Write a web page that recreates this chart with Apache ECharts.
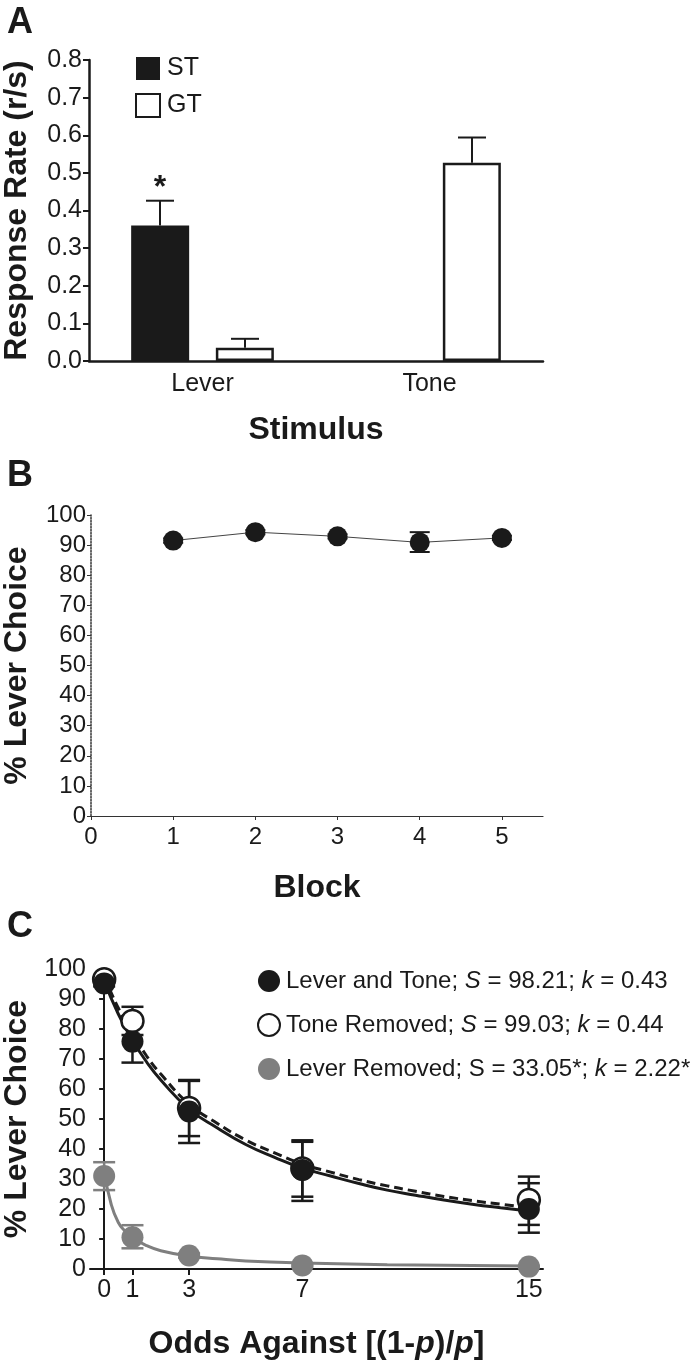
<!DOCTYPE html>
<html>
<head>
<meta charset="utf-8">
<script src="https://cdn.jsdelivr.net/npm/echarts@6/dist/echarts.min.js"></script>
<style>
html,body{margin:0;padding:0;background:#fff;}
#chart{width:699px;height:1360px;}
</style>
</head>
<body>
<div id="chart"></div>
<script>
// ---------- Panel A data ----------
const stimCats = ['Lever', 'Tone'];
const stValues = [0.36, 0];
const stErrTop = [0.426, null];
const stSig = ['*', ''];
const gtValues = [0.035, 0.527];
const gtErrTop = [0.059, 0.594];

// ---------- Panel B data ----------
const blocks = [1, 2, 3, 4, 5];
const blockChoice = [91.5, 94.3, 92.9, 90.9, 92.4];
const blockLow = [90.8, 93.6, 92.2, 87.7, 91.7];
const blockHigh = [92.2, 95.0, 93.6, 94.3, 93.1];
const blockTicks = [0, 1, 2, 3, 4, 5];

// ---------- Panel C data ----------
const odds = [0, 1, 3, 7, 15];
const ltMean = [95.2, 75.8, 52.5, 33.0, 20.0];
const ltLow = [94.2, 68.8, 42.0, 22.7, 12.1];
const ltHigh = [96.2, 82.8, 62.7, 42.4, 28.6];
const trMean = [96.6, 82.7, 53.7, 33.5, 23.0];
const trLow = [95.6, 78.0, 44.3, 24.1, 14.7];
const trHigh = [97.6, 87.4, 63.0, 42.9, 30.8];
const lrMean = [31.0, 10.6, 4.5, 1.2, 0.8];
const lrLow = [26.3, 6.9, 3.8, 0.8, 0.5];
const lrHigh = [35.6, 14.6, 5.2, 1.6, 1.1];
// fitted curves
const fitX = [0, 0.5, 1, 1.5, 2, 3, 4, 5, 6, 7, 8, 9, 10, 11, 12, 13, 14, 15];
const ltFit = [96.0, 85.0, 76.3, 69.0, 63.0, 53.3, 47.0, 41.5, 37.3, 33.6, 31.0, 28.5, 26.3, 24.6, 23.0, 21.6, 20.4, 19.3];
const trFit = [97.5, 87.0, 78.5, 71.0, 65.0, 55.0, 48.5, 43.0, 38.8, 35.0, 32.3, 29.8, 27.7, 25.9, 24.2, 22.8, 21.6, 20.5];
const lrFitX = [0, 0.25, 0.5, 0.75, 1, 1.5, 2, 3, 4, 5, 7, 10, 15];
const lrFit = [32.5, 21.5, 15.5, 12.5, 10.4, 7.8, 6.1, 4.3, 3.4, 2.7, 2.0, 1.4, 1.0];
const oddsTicks = [0, 1, 3, 7, 15];
const legendText = {
  'Lever and Tone': '{n|Lever and Tone; }{i|S}{n| = 98.21; }{i|k}{n| = 0.43}',
  'Tone Removed': '{n|Tone Removed; }{i|S}{n| = 99.03; }{i|k}{n| = 0.44}',
  'Lever Removed': '{n|Lever Removed; S = 33.05*; }{i|k}{n| = 2.22*}'
};

const FONT = "'Liberation Sans', Arial, Helvetica, sans-serif";
const INK = '#1a1a1a';
const GRAY = '#7f7f7f';

const chart = echarts.init(document.getElementById('chart'), null, {renderer: 'canvas'});

function zip(xs, ys) { return xs.map((x, i) => [x, ys[i]]); }

function errRenderer(opts) {
  return function (params, api) {
    const x = api.value(0), lo = api.value(1), hi = api.value(2);
    if (hi == null || isNaN(hi)) return null;
    const pLo = api.coord([x, lo]);
    const pHi = api.coord([x, hi]);
    const cx = pLo[0] + (opts.offset || 0);
    const st = {stroke: opts.color, lineWidth: opts.width};
    const children = [
      {type: 'line', shape: {x1: cx, y1: pLo[1], x2: cx, y2: pHi[1]}, style: st},
      {type: 'line', shape: {x1: cx - opts.cap, y1: pHi[1], x2: cx + opts.cap, y2: pHi[1]}, style: st}
    ];
    if (!opts.topOnly) {
      children.push({type: 'line', shape: {x1: cx - opts.cap, y1: pLo[1], x2: cx + opts.cap, y2: pLo[1]}, style: st});
    }
    if (opts.sig) {
      const s = opts.sig[params.dataIndex];
      if (s) {
        children.push({type: 'text', style: {text: s, x: cx, y: pHi[1] - 13, align: 'center', verticalAlign: 'middle',
          fontSize: 32, fontWeight: 'bold', fontFamily: FONT, fill: INK}});
      }
    }
    return {type: 'group', children: children};
  };
}

const axisNameStyle = {fontSize: 32, fontWeight: 'bold', fontFamily: FONT, color: INK};
const letterStyle = {fontSize: 36, fontWeight: 'bold', fontFamily: FONT, color: INK};

const option = {
  animation: false,
  backgroundColor: '#fff',
  textStyle: {fontFamily: FONT, color: INK},
  title: [
    {text: 'A', left: 2, top: 0, textStyle: letterStyle},
    {text: 'B', left: 2, top: 453, textStyle: letterStyle},
    {text: 'C', left: 2, top: 904, textStyle: letterStyle}
  ],
  legend: [
    {
      data: ['ST', 'GT'], orient: 'vertical', left: 130, top: 51,
      icon: 'rect', itemWidth: 24, itemHeight: 23, itemGap: 12,
      textStyle: {fontSize: 25, lineHeight: 24, fontFamily: FONT, color: INK, padding: [0, 0, 0, 2]},
      selectedMode: false
    },
    {
      data: ['Lever and Tone', 'Tone Removed', 'Lever Removed'], orient: 'vertical', left: 252, top: 964,
      icon: 'circle', itemWidth: 22, itemHeight: 22, itemGap: 20,
      formatter: name => legendText[name],
      textStyle: {fontSize: 24, lineHeight: 22, fontFamily: FONT, color: INK, padding: [0, 0, 0, 1],
        rich: {n: {fontSize: 24, lineHeight: 22, fontFamily: FONT, color: INK},
               i: {fontSize: 24, lineHeight: 22, fontStyle: 'italic', fontFamily: FONT, color: INK}}},
      selectedMode: false
    }
  ],
  grid: [
    {left: 89, top: 60, width: 454, height: 301, containLabel: false, outerBoundsMode: 'none'},
    {left: 91, top: 515, width: 452, height: 301, containLabel: false, outerBoundsMode: 'none'},
    {left: 90, top: 969, width: 453, height: 300, containLabel: false, outerBoundsMode: 'none'}
  ],
  xAxis: [
    {
      gridIndex: 0, type: 'category', data: stimCats,
      axisLine: {lineStyle: {color: INK, width: 2.5}},
      axisTick: {alignWithLabel: true, length: 6, lineStyle: {color: INK, width: 2.5}},
      axisLabel: {fontSize: 25, fontFamily: FONT, color: INK, margin: 11},
      name: 'Stimulus', nameLocation: 'middle', nameGap: 53, nameTextStyle: axisNameStyle
    },
    {
      gridIndex: 1, type: 'value', min: 0, max: 5.5,
      axisLine: {lineStyle: {color: '#333', width: 1.2}},
      axisTick: {customValues: blockTicks, length: 4, lineStyle: {color: '#333', width: 1}},
      axisLabel: {customValues: blockTicks, fontSize: 24, fontFamily: FONT, color: INK, margin: 9},
      splitLine: {show: false},
      name: 'Block', nameLocation: 'middle', nameGap: 56, nameTextStyle: axisNameStyle
    },
    {
      gridIndex: 2, type: 'value', min: -0.5, max: 15.5,
      axisLine: {lineStyle: {color: INK, width: 2}},
      axisTick: {customValues: oddsTicks, length: 6, lineStyle: {color: INK, width: 2}},
      axisLabel: {customValues: oddsTicks, fontSize: 25, fontFamily: FONT, color: INK, margin: 9},
      splitLine: {show: false},
      name: '{b|Odds Against [(1-}{bi|p}{b|)/}{bi|p}{b|]}', nameLocation: 'middle', nameGap: 59,
      nameTextStyle: {rich: {b: axisNameStyle, bi: Object.assign({}, axisNameStyle, {fontStyle: 'italic'})}}
    }
  ],
  yAxis: [
    {
      gridIndex: 0, type: 'value', min: 0, max: 0.8, interval: 0.1,
      axisLine: {show: true, lineStyle: {color: INK, width: 2.5}},
      axisTick: {show: true, length: 6, lineStyle: {color: INK, width: 2}},
      axisLabel: {fontSize: 25, fontFamily: FONT, color: INK, margin: 7, formatter: v => v.toFixed(1)},
      splitLine: {show: false},
      name: 'Response Rate (r/s)', nameLocation: 'middle', nameGap: 56, nameTextStyle: axisNameStyle
    },
    {
      gridIndex: 1, type: 'value', min: 0, max: 100, interval: 10,
      axisLine: {show: true, lineStyle: {color: '#333', width: 1.5, type: 'dotted'}},
      axisTick: {show: true, length: 4, lineStyle: {color: '#333', width: 1}},
      axisLabel: {fontSize: 24, fontFamily: FONT, color: INK, margin: 5},
      splitLine: {show: false},
      name: '% Lever Choice', nameLocation: 'middle', nameGap: 58, nameTextStyle: axisNameStyle
    },
    {
      gridIndex: 2, type: 'value', min: 0, max: 100, interval: 10,
      axisLine: {show: true, lineStyle: {color: INK, width: 2}},
      axisTick: {show: true, length: 5, lineStyle: {color: INK, width: 2}},
      axisLabel: {fontSize: 25, fontFamily: FONT, color: INK, margin: 4},
      splitLine: {show: false},
      name: '% Lever Choice', nameLocation: 'middle', nameGap: 56, nameTextStyle: axisNameStyle
    }
  ],
  series: [
    // ----- Panel A -----
    {
      name: 'ST', type: 'bar', xAxisIndex: 0, yAxisIndex: 0, data: stValues,
      barWidth: 58, barGap: '46%', itemStyle: {color: INK}, z: 2
    },
    {
      name: 'GT', type: 'bar', xAxisIndex: 0, yAxisIndex: 0, data: gtValues,
      barWidth: 58, barGap: '46%', itemStyle: {color: '#fff', borderColor: INK, borderWidth: 2.5}, z: 2
    },
    {
      type: 'custom', xAxisIndex: 0, yAxisIndex: 0, z: 1,
      data: stimCats.map((c, i) => [i, stValues[i], stErrTop[i]]),
      encode: {x: 0, y: [1, 2]},
      renderItem: errRenderer({offset: -42.5, cap: 14, color: INK, width: 2, topOnly: true, sig: stSig})
    },
    {
      type: 'custom', xAxisIndex: 0, yAxisIndex: 0, z: 1,
      data: stimCats.map((c, i) => [i, gtValues[i], gtErrTop[i]]),
      encode: {x: 0, y: [1, 2]},
      renderItem: errRenderer({offset: 42.5, cap: 14, color: INK, width: 2, topOnly: true})
    },
    // ----- Panel B -----
    {
      type: 'custom', xAxisIndex: 1, yAxisIndex: 1, z: 1,
      data: blocks.map((b, i) => [b, blockLow[i], blockHigh[i]]),
      encode: {x: 0, y: [1, 2]},
      renderItem: errRenderer({cap: 10, color: INK, width: 2})
    },
    {
      name: 'Block choice', type: 'line', xAxisIndex: 1, yAxisIndex: 1, z: 3,
      data: zip(blocks, blockChoice),
      symbol: 'circle', symbolSize: 20,
      lineStyle: {color: '#444', width: 1}, itemStyle: {color: INK, opacity: 1}
    },
    // ----- Panel C curves -----
    {
      name: 'fit LT', type: 'line', xAxisIndex: 2, yAxisIndex: 2, z: 2, smooth: true, symbol: 'none',
      data: zip(fitX, ltFit), lineStyle: {color: INK, width: 3}
    },
    {
      name: 'fit TR', type: 'line', xAxisIndex: 2, yAxisIndex: 2, z: 2, smooth: true, symbol: 'none',
      data: zip(fitX, trFit), lineStyle: {color: INK, width: 3, type: [9, 5]}
    },
    {
      name: 'fit LR', type: 'line', xAxisIndex: 2, yAxisIndex: 2, z: 2, smooth: true, symbol: 'none',
      data: zip(lrFitX, lrFit), lineStyle: {color: GRAY, width: 3}
    },
    // ----- Panel C error bars -----
    {
      type: 'custom', xAxisIndex: 2, yAxisIndex: 2, z: 3,
      data: odds.map((x, i) => [x, trLow[i], trHigh[i]]), encode: {x: 0, y: [1, 2]},
      renderItem: errRenderer({cap: 11, color: INK, width: 2.5})
    },
    {
      type: 'custom', xAxisIndex: 2, yAxisIndex: 2, z: 3,
      data: odds.map((x, i) => [x, ltLow[i], ltHigh[i]]), encode: {x: 0, y: [1, 2]},
      renderItem: errRenderer({cap: 11, color: INK, width: 2.5})
    },
    {
      type: 'custom', xAxisIndex: 2, yAxisIndex: 2, z: 3,
      data: odds.map((x, i) => [x, lrLow[i], lrHigh[i]]), encode: {x: 0, y: [1, 2]},
      renderItem: errRenderer({cap: 11, color: GRAY, width: 2.5})
    },
    // ----- Panel C markers -----
    {
      name: 'Tone Removed', type: 'scatter', xAxisIndex: 2, yAxisIndex: 2, z: 4,
      data: zip(odds, trMean), symbol: 'circle', symbolSize: 22,
      itemStyle: {color: '#fff', borderColor: INK, borderWidth: 2.5, opacity: 1}
    },
    {
      name: 'Lever and Tone', type: 'scatter', xAxisIndex: 2, yAxisIndex: 2, z: 5,
      data: zip(odds, ltMean), symbol: 'circle', symbolSize: 22,
      itemStyle: {color: INK, opacity: 1}
    },
    {
      name: 'Lever Removed', type: 'scatter', xAxisIndex: 2, yAxisIndex: 2, z: 5,
      data: zip(odds, lrMean), symbol: 'circle', symbolSize: 22,
      itemStyle: {color: GRAY, opacity: 1}
    }
  ]
};

chart.setOption(option);
</script>
</body>
</html>
